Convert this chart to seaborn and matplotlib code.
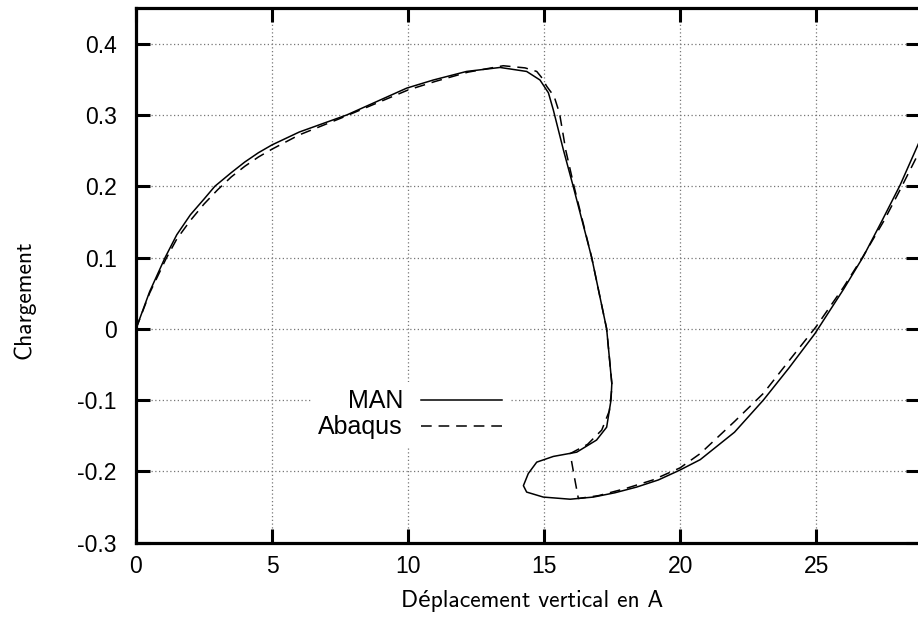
import pandas as pd
import matplotlib.pyplot as plt
import seaborn as sns

# courbe MAN (trait plein)
man_x = [0, 0.5, 1.07, 1.5, 2, 2.5, 2.9, 3.5, 4, 4.5, 5, 6, 7.75, 9.95, 10.93, 12.15, 13.38,
         14.36, 14.85, 15.16, 15.34, 15.71, 16.07, 16.75, 17.3, 17.49, 17.46, 17.3, 16.93,
         16.2, 15.34, 14.73, 14.42, 14.24, 14.36, 14.97, 15.96, 16.81, 17.6, 18.4, 19.2,
         20.0, 20.74, 22.0, 23.06, 24.0, 24.96, 26.0, 26.73, 27.4, 28.09, 28.8]
man_y = [0, 0.052, 0.1, 0.132, 0.16, 0.182, 0.2, 0.219, 0.234, 0.247, 0.258, 0.276, 0.3,
         0.3376, 0.349, 0.361, 0.3666, 0.361, 0.349, 0.331, 0.307, 0.251, 0.2, 0.1, 0.0,
         -0.077, -0.1, -0.138, -0.156, -0.173, -0.179, -0.187, -0.203, -0.22, -0.229,
         -0.236, -0.239, -0.236, -0.23, -0.222, -0.212, -0.198, -0.1835, -0.145, -0.1,
         -0.055, -0.0065, 0.055, 0.101, 0.15, 0.2018, 0.263]

# courbe Abaqus (tirets)
abq_x = [0, 0.5, 1.1, 1.5, 2, 2.5, 3, 3.5, 4, 4.5, 5, 6, 7.5, 10, 11, 12.2, 13.5, 14.3,
         14.73, 14.9, 15.1, 15.37, 15.57, 15.8, 16.1, 16.75, 17.3, 17.5, 17.4, 17.12, 16.6,
         15.96, 16.1, 16.26, 17.0, 18.0, 19.0, 20.0, 20.74, 22.0, 23.06, 24.0, 25.0, 26.0,
         26.7, 27.5, 28.1, 28.8]
abq_y = [0, 0.05, 0.098, 0.126, 0.152, 0.175, 0.195, 0.213, 0.228, 0.241, 0.252, 0.272,
         0.295, 0.335, 0.347, 0.36, 0.369, 0.366, 0.361, 0.353, 0.34, 0.326, 0.302, 0.25,
         0.2, 0.1, 0.0, -0.08, -0.115, -0.142, -0.162, -0.175, -0.205, -0.238, -0.234,
         -0.224, -0.212, -0.195, -0.175, -0.13, -0.0906, -0.045, 0.003, 0.058, 0.1, 0.152,
         0.196, 0.249]

df = pd.concat([
    pd.DataFrame({"x": man_x, "y": man_y, "serie": "MAN"}),
    pd.DataFrame({"x": abq_x, "y": abq_y, "serie": "Abaqus"}),
], ignore_index=True)

plt.rcParams["font.family"] = ["DejaVu Sans"]

fig = plt.figure(figsize=(9.18, 6.26), dpi=100)
ax = fig.add_axes([136 / 918, 1 - 542.7 / 626, 783.5 / 918, 534.7 / 626])

sns.lineplot(data=df, x="x", y="y", style="serie", color="black",
             dashes={"MAN": "", "Abaqus": (7, 4.5)}, sort=False, estimator=None,
             linewidth=1.1, ax=ax)

ax.set_xlim(0, 28.8)
ax.set_ylim(-0.3, 0.45)
ax.set_xticks([0, 5, 10, 15, 20, 25])
ax.set_yticks([-0.3, -0.2, -0.1, 0, 0.1, 0.2, 0.3, 0.4])
ax.set_yticklabels(["-0.3", "-0.2", "-0.1", "0", "0.1", "0.2", "0.3", "0.4"])
ax.grid(True, color="#777777", linestyle=(0, (1, 2)), linewidth=0.9)

for s in ax.spines.values():
    s.set_linewidth(2.3)
ax.tick_params(direction="in", length=10, width=2.2, top=True, right=True,
               labelsize=16.5, pad=9)
ax.tick_params(axis="y", pad=14)
for lab in ax.get_xticklabels() + ax.get_yticklabels():
    lab.set_family(["Liberation Sans"])

lab_font = ["cmss10", "Lato"]
ax.set_xlabel("Déplacement vertical en A", fontsize=17, family=lab_font)
ax.set_ylabel("Chargement", fontsize=17, family=lab_font)
ax.xaxis.set_label_coords(0.505, -0.088)
ax.yaxis.set_label_coords(-0.128, 0.454)

handles, labels = ax.get_legend_handles_labels()
leg = ax.legend(handles, labels, loc="center right", bbox_to_anchor=(0.4767, 0.24),
                markerfirst=False, handlelength=3.24, handletextpad=0.72,
                labelspacing=0.08, fontsize=18, frameon=True, fancybox=False,
                framealpha=1, borderpad=0.3, borderaxespad=0)
leg.get_frame().set_edgecolor("none")
for t in leg.get_texts():
    t.set_family(["Liberation Sans"])

fig.savefig("out.png", dpi=100)
